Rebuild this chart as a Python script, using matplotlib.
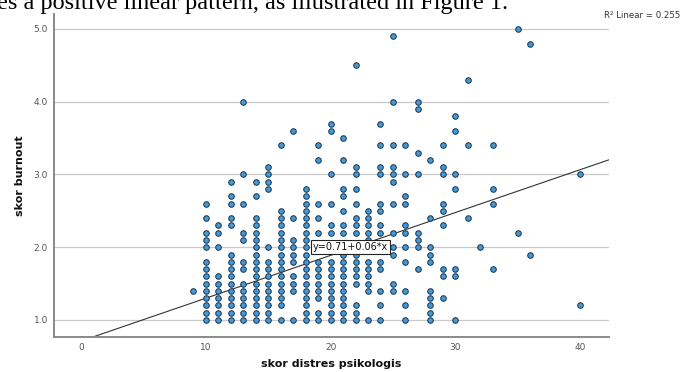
import matplotlib
matplotlib.use("Agg")
import matplotlib.pyplot as plt
import numpy as np

# ---- data ----
distres_levels = [9, 10, 11, 12, 13, 14, 15, 16, 17, 18, 19, 20, 21, 22, 23,
                  24, 25, 26, 27, 28, 29, 30, 31, 32, 33, 35, 36, 40]
burnout_by_level = [
    [1.4],
    [1.0, 1.1, 1.2, 1.3, 1.4, 1.5, 1.6, 1.7, 1.8, 2.0, 2.1, 2.2, 2.4, 2.6],
    [1.0, 1.1, 1.2, 1.3, 1.4, 1.5, 1.6, 2.0, 2.2, 2.3],
    [1.0, 1.1, 1.2, 1.3, 1.4, 1.5, 1.6, 1.7, 1.8, 1.9, 2.3, 2.4, 2.6, 2.7, 2.9],
    [1.0, 1.1, 1.2, 1.3, 1.4, 1.5, 1.7, 1.8, 2.1, 2.2, 2.6, 3.0, 4.0],
    [1.0, 1.1, 1.2, 1.3, 1.4, 1.5, 1.6, 1.7, 1.8, 1.9, 2.0, 2.1, 2.2, 2.3, 2.4, 2.7, 2.9],
    [1.0, 1.1, 1.2, 1.3, 1.4, 1.5, 1.6, 1.7, 1.8, 2.0, 2.8, 2.9, 3.0, 3.1],
    [1.0, 1.2, 1.3, 1.4, 1.5, 1.6, 1.7, 1.8, 1.9, 2.0, 2.1, 2.2, 2.3, 2.4, 2.5, 3.4],
    [1.0, 1.4, 1.5, 1.6, 1.8, 1.9, 2.0, 2.1, 2.4, 3.6],
    [1.0, 1.1, 1.2, 1.3, 1.4, 1.5, 1.6, 1.7, 1.8, 1.9, 2.0, 2.1, 2.2, 2.3, 2.4, 2.5, 2.6, 2.7, 2.8],
    [1.0, 1.1, 1.3, 1.4, 1.5, 1.6, 1.7, 1.8, 2.2, 2.4, 2.6, 3.2, 3.4],
    [1.0, 1.1, 1.2, 1.3, 1.4, 1.5, 1.6, 1.7, 1.8, 2.2, 2.3, 2.6, 3.0, 3.6, 3.7],
    [1.0, 1.1, 1.2, 1.3, 1.4, 1.5, 1.6, 1.7, 1.8, 1.9, 2.2, 2.3, 2.5, 2.7, 2.8, 3.2, 3.5],
    [1.0, 1.1, 1.2, 1.5, 1.6, 1.7, 1.8, 1.9, 2.2, 2.3, 2.4, 2.6, 2.8, 3.0, 3.1, 4.5],
    [1.0, 1.4, 1.5, 1.6, 1.7, 1.8, 2.0, 2.1, 2.2, 2.3, 2.4, 2.5],
    [1.0, 1.2, 1.4, 1.7, 1.8, 2.0, 2.2, 2.3, 2.5, 2.6, 3.0, 3.1, 3.4, 3.7],
    [1.4, 1.5, 1.9, 2.0, 2.2, 2.6, 2.9, 3.0, 3.1, 3.4, 4.0, 4.9],
    [1.0, 1.2, 1.4, 1.8, 2.0, 2.2, 2.3, 2.6, 2.7, 3.0, 3.4],
    [1.7, 2.0, 2.1, 2.2, 3.0, 3.3, 3.9, 4.0],
    [1.0, 1.1, 1.2, 1.3, 1.4, 1.8, 1.9, 2.0, 2.4, 3.2],
    [1.3, 1.6, 1.7, 2.3, 2.5, 2.6, 3.0, 3.1, 3.4],
    [1.0, 1.6, 1.7, 2.8, 3.0, 3.6, 3.8],
    [2.4, 3.4, 4.3],
    [2.0],
    [1.7, 2.6, 2.8, 3.4],
    [2.2, 5.0],
    [1.9, 4.8],
    [1.2, 3.0],
]
fit_intercept = 0.71
fit_slope = 0.0589
r_squared = 0.255
x_ticks = [0, 10, 20, 30, 40]
y_ticks = [1.0, 2.0, 3.0, 4.0, 5.0]

xs, ys = [], []
for lvl, vals in zip(distres_levels, burnout_by_level):
    for v in vals:
        xs.append(lvl)
        ys.append(v)

W, H = 685, 372
fig = plt.figure(figsize=(W / 100, H / 100), dpi=100)
ax = fig.add_axes([53.5 / W, (H - 336.5) / H, (608.5 - 53.5) / W, (336.5 - 14) / H])

xlim = (-2.2, 42.27)
ylim = (0.773, 5.206)
ax.set_xlim(*xlim)
ax.set_ylim(*ylim)

for yt in y_ticks:
    ax.axhline(yt, color="#c9c9c9", lw=0.9, zorder=1)

line_x = np.array(xlim)
ax.plot(line_x, fit_intercept + fit_slope * line_x, color="#333333", lw=0.8, zorder=2)

ax.scatter(xs, ys, s=16, facecolor="#4499d6", edgecolor="#1d3a55", linewidths=0.75, zorder=3)

ax.text(21.6, fit_intercept + fit_slope * 21.6 + 0.02,
        f"y={fit_intercept:.2f}+{fit_slope:.2f}*x", fontsize=7, ha="center", va="center",
        color="#111111", zorder=4,
        bbox=dict(boxstyle="square,pad=0.18", facecolor="white", edgecolor="#222222", lw=0.8))

for side in ("top", "right"):
    ax.spines[side].set_visible(False)
for side in ("left", "bottom"):
    ax.spines[side].set_color("#8a8a8a")
    ax.spines[side].set_linewidth(1.4)

ax.set_xticks(x_ticks)
ax.set_xticklabels([str(t) for t in x_ticks])
ax.set_yticks(y_ticks)
ax.set_yticklabels([f"{t:.1f}" for t in y_ticks])
ax.tick_params(axis="both", length=0, labelsize=6.5, labelcolor="#555555")
ax.tick_params(axis="x", pad=5)
ax.tick_params(axis="y", pad=4)

ax.set_xlabel("skor distres psikologis", fontsize=8, fontweight="bold", color="#111111", labelpad=5)
ax.set_ylabel("skor burnout", fontsize=8, fontweight="bold", color="#111111", labelpad=6)

fig.text(604 / W, 1 - 16 / H, f"R\u00b2 Linear = {r_squared:.3f}", fontsize=6.2,
         color="#333333", ha="left", va="center")

fig.text(-3 / W, 1 - 9 / H, "es a positive linear pattern, as illustrated in Figure 1.",
         fontfamily="Liberation Serif", fontsize=17.5, color="black", ha="left", va="baseline")

fig.savefig("out.png", dpi=100)
